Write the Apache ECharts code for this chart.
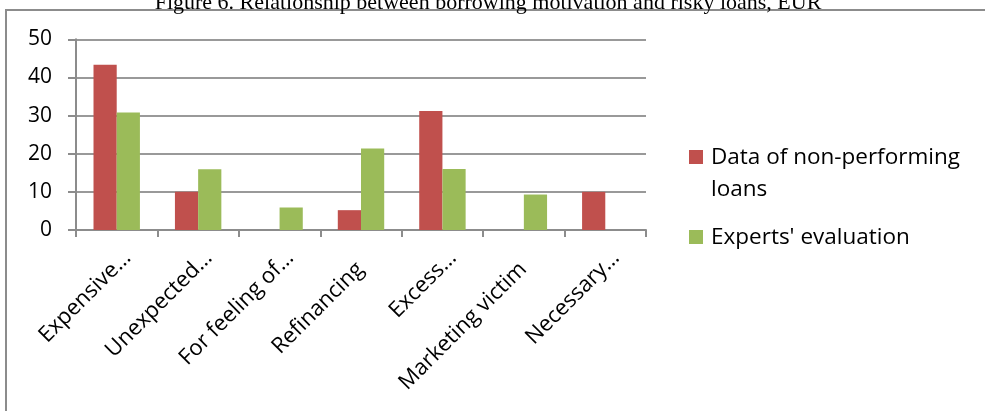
<!DOCTYPE html>
<html>
<head>
<meta charset="utf-8">
<script src="https://cdn.jsdelivr.net/npm/echarts@6/dist/echarts.min.js"></script>
<style>
  html, body { margin: 0; padding: 0; background: #fff; }
  #chart { width: 985px; height: 411px; }
</style>
</head>
<body>
<div id="chart"></div>
<script>
// Borrowing motivation categories (labels as printed, truncated ones end with an ellipsis)
const categories = ['Expensive…', 'Unexpected…', 'For feeling of…', 'Refinancing', 'Excess…', 'Marketing victim', 'Necessary…'];
const seriesNames = ['Data of non-performing loans', "Experts' evaluation"];
const nonPerforming = [43.3, 10, null, 5.2, 31.2, null, 10];
const expertsEval = [30.8, 15.9, 5.9, 21.4, 16.0, 9.3, null];
const yTicks = [0, 10, 20, 30, 40, 50];
const colors = ['#C0504D', '#9BBB59'];
const legendLines = ['Data of non-performing\nloans', "Experts' evaluation"];

const FONT = '"Open Sans"';
const chart = echarts.init(document.getElementById('chart'), null, { renderer: 'canvas' });

const legendGraphics = [];
const legendTops = [142, 222];
seriesNames.forEach((name, i) => {
  legendGraphics.push({
    type: 'rect',
    shape: { x: 689, y: legendTops[i] + 8, width: 14, height: 14 },
    style: { fill: colors[i] }
  });
  legendGraphics.push({
    type: 'text',
    x: 711, y: legendTops[i],
    style: {
      text: legendLines[i],
      font: '22.5px ' + FONT,
      fill: '#000',
      lineHeight: 32,
      verticalAlign: 'top',
      align: 'left'
    }
  });
});

chart.setOption({
  animation: false,
  grid: { left: 76, right: 339, top: 39.3, bottom: 181, containLabel: false },
  xAxis: {
    type: 'category',
    data: categories,
    axisLine: { show: true, lineStyle: { color: '#8c8c8c', width: 2 } },
    axisTick: { show: true, length: 7, lineStyle: { color: '#8c8c8c', width: 2 } },
    axisLabel: {
      interval: 0,
      rotate: 45,
      margin: 4,
      verticalAlign: 'top',
      padding: [11, 7, 0, 0],
      color: '#000',
      fontFamily: FONT,
      fontSize: 22,
      formatter: (v) => v.endsWith('…') ? '{e|' + v + '}' : '{f|' + v + '}',
      rich: {
        e: { fontFamily: FONT, fontSize: 22, color: '#000' },
        f: { fontFamily: FONT, fontSize: 22, color: '#000', padding: [0, 16, 0, 0] }
      }
    },
    splitLine: { show: false }
  },
  yAxis: {
    type: 'value',
    min: yTicks[0],
    max: yTicks[yTicks.length - 1],
    interval: 10,
    axisLine: { show: true, lineStyle: { color: '#8c8c8c', width: 2 } },
    axisTick: { show: true, length: 8, lineStyle: { color: '#8c8c8c', width: 2 } },
    axisLabel: { margin: 24, color: '#000', fontFamily: FONT, fontSize: 21 },
    splitLine: { show: true, lineStyle: { color: '#999', width: 2 } }
  },
  series: [
    {
      name: seriesNames[0], type: 'bar', data: nonPerforming,
      itemStyle: { color: colors[0] }, barGap: '0%', barCategoryGap: '43%'
    },
    {
      name: seriesNames[1], type: 'bar', data: expertsEval,
      itemStyle: { color: colors[1] }, barGap: '0%', barCategoryGap: '43%'
    }
  ],
  graphic: [
    {
      type: 'rect',
      shape: { x: 6, y: 10, width: 1100, height: 600 },
      style: { fill: 'none', stroke: '#8c8c8c', lineWidth: 2 },
      z: -1
    },
    {
      type: 'text',
      x: 488, y: 14,
      style: {
        text: 'Figure 6. Relationship between borrowing motivation and risky loans, EUR',
        font: '22px "Liberation Serif"',
        fill: '#000',
        align: 'center',
        verticalAlign: 'bottom'
      }
    },
    ...legendGraphics
  ]
});
</script>
</body>
</html>
